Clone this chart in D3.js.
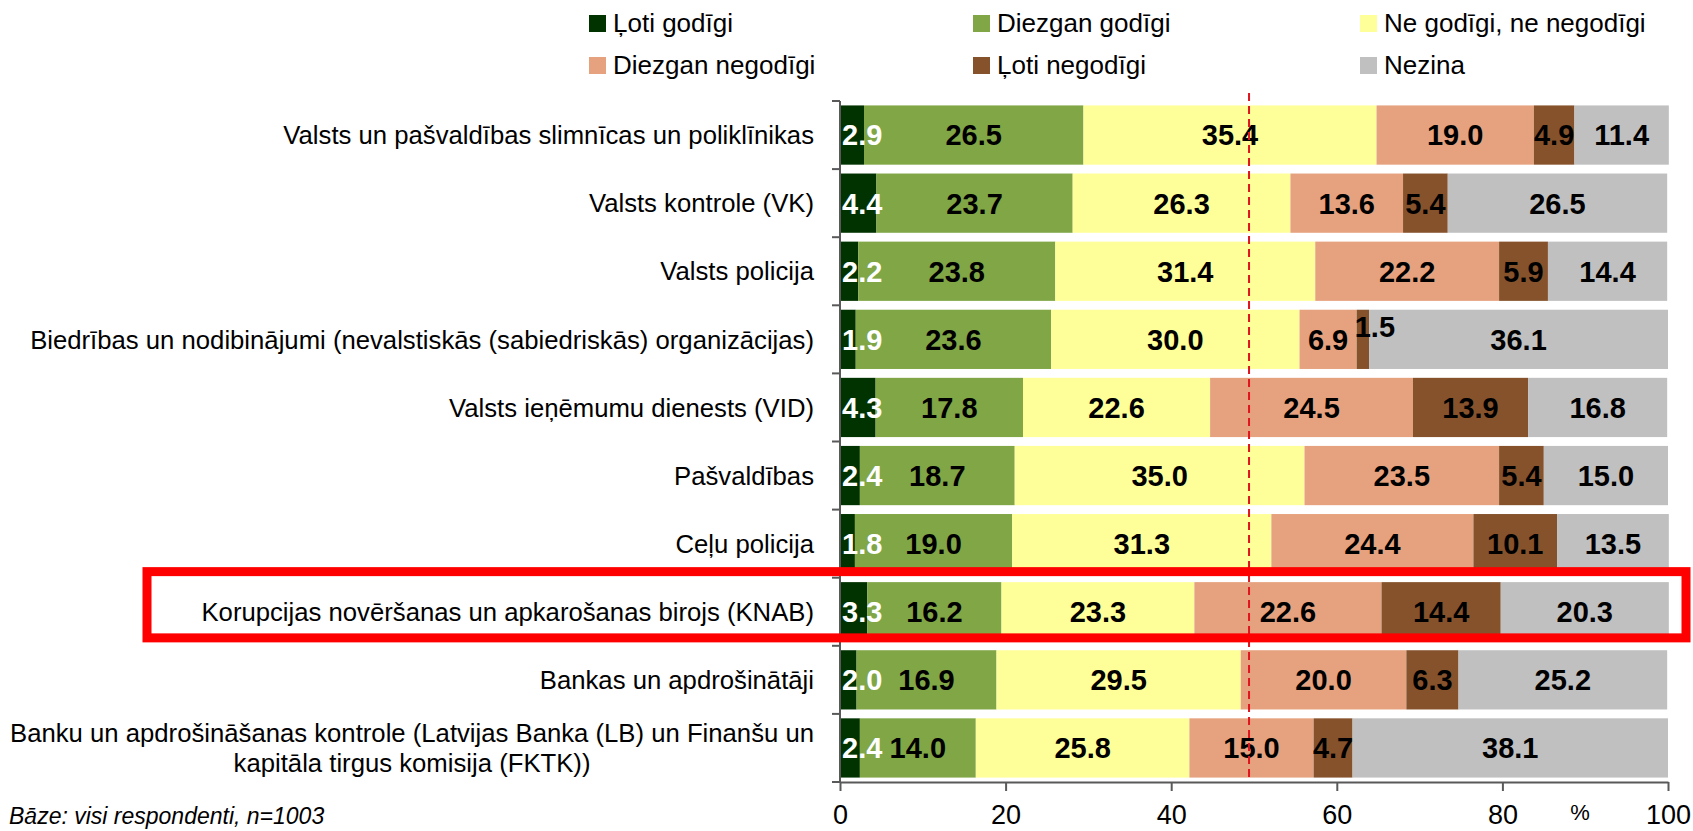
<!DOCTYPE html>
<html>
<head>
<meta charset="utf-8">
<script src="https://cdn.jsdelivr.net/npm/d3@7/dist/d3.min.js"></script>
<style>
  html, body { margin: 0; padding: 0; background: #fff; }
  svg { display: block; font-family: "Liberation Sans", Arial, sans-serif; }
</style>
</head>
<body>
<svg id="chart" width="1693" height="831"></svg>
<script>
// ---------- DATA ----------
const categories = [
  "Valsts un pašvaldības slimnīcas un poliklīnikas",
  "Valsts kontrole (VK)",
  "Valsts policija",
  "Biedrības un nodibinājumi (nevalstiskās (sabiedriskās) organizācijas)",
  "Valsts ieņēmumu dienests (VID)",
  "Pašvaldības",
  "Ceļu policija",
  "Korupcijas novēršanas un apkarošanas birojs (KNAB)",
  "Bankas un apdrošinātāji",
  "Banku un apdrošināšanas kontrole (Latvijas Banka (LB) un Finanšu un kapitāla tirgus komisija (FKTK))"
];
const categoryLines = [
  ["Valsts un pašvaldības slimnīcas un poliklīnikas"],
  ["Valsts kontrole (VK)"],
  ["Valsts policija"],
  ["Biedrības un nodibinājumi (nevalstiskās (sabiedriskās) organizācijas)"],
  ["Valsts ieņēmumu dienests (VID)"],
  ["Pašvaldības"],
  ["Ceļu policija"],
  ["Korupcijas novēršanas un apkarošanas birojs (KNAB)"],
  ["Bankas un apdrošinātāji"],
  ["Banku un apdrošināšanas kontrole (Latvijas Banka (LB) un Finanšu un", "kapitāla tirgus komisija (FKTK))"]
];
const seriesNames = ["Ļoti godīgi", "Diezgan godīgi", "Ne godīgi, ne negodīgi",
                     "Diezgan negodīgi", "Ļoti negodīgi", "Nezina"];
const lotiGodigi      = [2.9, 4.4, 2.2, 1.9, 4.3, 2.4, 1.8, 3.3, 2.0, 2.4];
const diezganGodigi   = [26.5, 23.7, 23.8, 23.6, 17.8, 18.7, 19.0, 16.2, 16.9, 14.0];
const neNe            = [35.4, 26.3, 31.4, 30.0, 22.6, 35.0, 31.3, 23.3, 29.5, 25.8];
const diezganNegodigi = [19.0, 13.6, 22.2, 6.9, 24.5, 23.5, 24.4, 22.6, 20.0, 15.0];
const lotiNegodigi    = [4.9, 5.4, 5.9, 1.5, 13.9, 5.4, 10.1, 14.4, 6.3, 4.7];
const nezina          = [11.4, 26.5, 14.4, 36.1, 16.8, 15.0, 13.5, 20.3, 25.2, 38.1];
const seriesValues = [lotiGodigi, diezganGodigi, neNe, diezganNegodigi, lotiNegodigi, nezina];
const xTicks = [0, 20, 40, 60, 80, 100];
const referenceValue = 49.4;
const highlighted = "Korupcijas novēršanas un apkarošanas birojs (KNAB)";
const unitLabel = "%";
const noteText = "Bāze: visi respondenti, n=1003";

// ---------- STYLE ----------
const colors = ["#003300", "#80A646", "#FFFF99", "#E6A27E", "#86522C", "#C0C0C0"];
const labelColors = ["#ffffff", "#000", "#000", "#000", "#000", "#000"];
const axisColor = "#595959";

const svg = d3.select("#chart");

const x = d3.scaleLinear().domain([0, 100]).range([840, 1668]);
const y = d3.scaleBand().domain(categories).range([101, 782])
  .paddingInner(0.13).paddingOuter(0.065);

// stacked data
const rows = categories.map((c, i) => {
  const o = { cat: c };
  seriesNames.forEach((s, j) => o[s] = seriesValues[j][i]);
  return o;
});
const stack = d3.stack().keys(seriesNames)(rows);

// bars
const gBars = svg.append("g");
stack.forEach((layer, j) => {
  gBars.append("g").attr("fill", colors[j])
    .selectAll("rect").data(layer).join("rect")
    .attr("x", d => x(d[0]))
    .attr("y", d => y(d.data.cat))
    .attr("width", d => x(d[1]) - x(d[0]))
    .attr("height", y.bandwidth());
});

// value labels
const gLab = svg.append("g").attr("font-weight", "bold").attr("font-size", 29)
  .attr("text-anchor", "middle");
const manualOffset = { "3|4": [12, -13] }; // label moved by hand in the original
stack.forEach((layer, j) => {
  layer.forEach((d, i) => {
    const val = seriesValues[j][i];
    const t = gLab.append("text")
      .attr("fill", labelColors[j])
      .text(val.toFixed(1));
    const w = t.node().getComputedTextLength();
    let cx = (x(d[0]) + x(d[1])) / 2;
    cx = Math.max(cx, x(0) + w / 2 + 2);
    let cy = y(d.data.cat) + y.bandwidth() / 2 + 10.4;
    const off = manualOffset[i + "|" + j];
    if (off) { cx += off[0]; cy += off[1]; }
    t.attr("x", cx).attr("y", cy);
  });
});

// y axis (line + ticks at category boundaries)
const half = y.step() * y.paddingInner() / 2;
const boundaries = categories.map(c => y(c) - half).concat([y.range()[1]]);
const gY = svg.append("g").attr("stroke", axisColor).attr("stroke-width", 2);
gY.append("line").attr("x1", x(0)).attr("x2", x(0))
  .attr("y1", boundaries[0]).attr("y2", y.range()[1]);
gY.selectAll("line.tick").data(boundaries).join("line").attr("class", "tick")
  .attr("x1", x(0) - 8).attr("x2", x(0)).attr("y1", d => d).attr("y2", d => d);

// category labels
const gCat = svg.append("g").attr("font-size", 25.7).attr("fill", "#000");
categoryLines.forEach((lines, i) => {
  const cy = y(categories[i]) + y.bandwidth() / 2;
  if (lines.length === 1) {
    gCat.append("text").attr("text-anchor", "end")
      .attr("x", 814).attr("y", cy + 9.2).text(lines[0]);
  } else {
    const t1 = gCat.append("text").attr("text-anchor", "end")
      .attr("x", 814).attr("y", cy - 15 + 9.2).text(lines[0]);
    const w1 = t1.node().getComputedTextLength();
    gCat.append("text").attr("text-anchor", "middle")
      .attr("x", 814 - w1 / 2).attr("y", cy + 15 + 9.2).text(lines[1]);
  }
});

// x axis
const gX = svg.append("g").attr("transform", `translate(0,${y.range()[1]})`)
  .call(d3.axisBottom(x).tickValues(xTicks).tickSize(9).tickSizeOuter(0).tickFormat(d3.format("d")));
gX.select(".domain").attr("stroke", axisColor).attr("stroke-width", 2);
gX.selectAll(".tick line").attr("stroke", axisColor).attr("stroke-width", 2);
gX.selectAll(".tick text").attr("font-size", 27).attr("font-family", "\"Liberation Sans\", Arial, sans-serif")
  .attr("fill", "#000").attr("y", 42).attr("dy", 0);

svg.append("text").attr("x", 1580).attr("y", 820).attr("text-anchor", "middle")
  .attr("font-size", 22).text(unitLabel);

// reference dashed line
svg.append("line")
  .attr("x1", x(referenceValue)).attr("x2", x(referenceValue))
  .attr("y1", 93).attr("y2", 780)
  .attr("stroke", "#E0141E").attr("stroke-width", 2).attr("stroke-dasharray", "8,5");

// highlight box
const hy = y(highlighted);
svg.append("rect")
  .attr("x", 147).attr("y", hy - 10.5)
  .attr("width", 1686 - 147).attr("height", y.bandwidth() + 7)
  .attr("fill", "none").attr("stroke", "#FF0000").attr("stroke-width", 9);

// legend
const legendCols = [589, 973, 1360];
const legendRows = [32, 74];
const gLeg = svg.append("g").attr("font-size", 26);
seriesNames.forEach((s, j) => {
  const lx = legendCols[j % 3], ly = legendRows[Math.floor(j / 3)];
  gLeg.append("rect").attr("x", lx).attr("y", ly - 17).attr("width", 17).attr("height", 17)
    .attr("fill", colors[j]);
  gLeg.append("text").attr("x", lx + 24).attr("y", ly).text(s);
});

// note
svg.append("text").attr("x", 9).attr("y", 824).attr("font-size", 23)
  .attr("font-style", "italic").text(noteText);
</script>
</body>
</html>
